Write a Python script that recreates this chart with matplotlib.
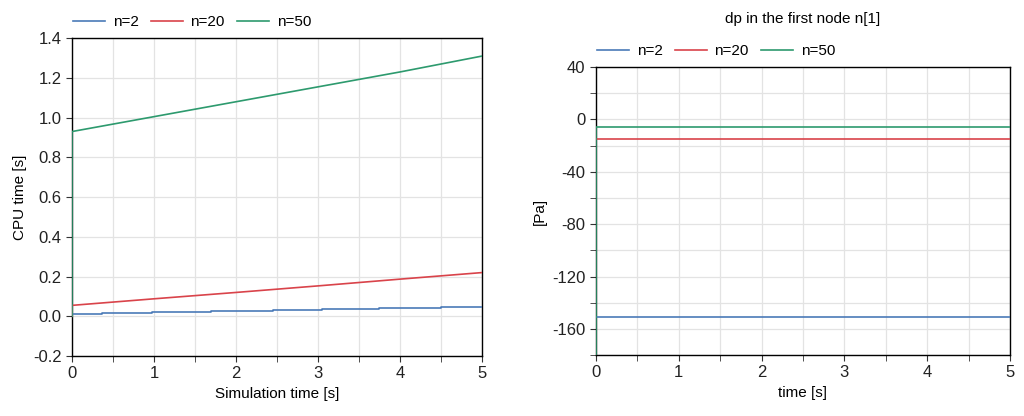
import matplotlib.pyplot as plt
from matplotlib.ticker import MultipleLocator

plt.rcParams['font.family'] = ['Liberation Sans', 'DejaVu Sans']
plt.rcParams['font.size'] = 11
plt.rcParams['axes.unicode_minus'] = False

# left panel: CPU time
labels = ['n=2', 'n=20', 'n=50']
colors = ['#4a7ab8', '#d9434a', '#2d9a6e']

t_n2 = [0, 0.36, 0.97, 1.7, 2.45, 3.05, 3.75, 4.5, 5]
cpu_n2 = [0.01, 0.015, 0.02, 0.025, 0.03, 0.035, 0.04, 0.048, 0.048]
t_lin = [0, 0, 1, 2, 3, 4, 5]
cpu_n20 = [0, 0.055, 0.088, 0.12, 0.153, 0.187, 0.22]
cpu_n50 = [0, 0.93, 1.005, 1.08, 1.155, 1.23, 1.31]

# right panel: dp in first node
t_dp = [0, 0, 5]
dp_n2 = [-151, -151, -151]
dp_n20 = [-15, -15, -15]
dp_n50 = [-400, -6, -6]

fig = plt.figure(figsize=(10.24, 4.16), dpi=100)
ax1 = fig.add_axes([0.0703, 0.1442, 0.4004, 0.764])
ax2 = fig.add_axes([0.582, 0.1466, 0.4043, 0.692])

ax1.plot(t_n2, cpu_n2, color=colors[0], lw=1.2, drawstyle='steps-post', label=labels[0], zorder=3)
ax1.plot(t_lin, cpu_n20, color=colors[1], lw=1.2, label=labels[1], zorder=3)
ax1.plot(t_lin, cpu_n50, color=colors[2], lw=1.2, label=labels[2], zorder=3)
ax1.set_xlim(0, 5)
ax1.set_ylim(-0.2, 1.4)
ax1.yaxis.set_major_locator(MultipleLocator(0.2))
ax1.set_xlabel('Simulation time [s]')
ax1.set_ylabel('CPU time [s]')
ax1.yaxis.set_major_formatter(plt.FuncFormatter(lambda v, p: f'{v:.1f}'))

ax2.plot(t_dp, dp_n2, color=colors[0], lw=1.2, label=labels[0], zorder=3)
ax2.plot(t_dp, dp_n20, color=colors[1], lw=1.2, label=labels[1], zorder=3)
ax2.plot(t_dp, dp_n50, color=colors[2], lw=1.2, label=labels[2], zorder=3)
ax2.set_xlim(0, 5)
ax2.set_ylim(-180, 40)
ax2.yaxis.set_major_locator(MultipleLocator(40))
ax2.yaxis.set_minor_locator(MultipleLocator(20))
ax2.set_xlabel('time [s]')
ax2.set_ylabel('[Pa]')
ax2.set_title('dp in the first node n[1]', pad=32, fontsize=11)

for ax in (ax1, ax2):
    ax.xaxis.set_major_locator(MultipleLocator(1))
    ax.xaxis.set_minor_locator(MultipleLocator(0.5))
    ax.grid(True, which='both', color='#e3e3e3', lw=0.9)
    ax.set_axisbelow(True)
    ax.tick_params(which='both', direction='out', length=4, colors='#333333', labelcolor='#222222')
    ax.tick_params(axis='x', labelsize=12)
    ax.tick_params(axis='y', labelsize=12)
    for s in ax.spines.values():
        s.set_linewidth(1.0)
        s.set_zorder(2)
    ax.legend(loc='lower left', bbox_to_anchor=(-0.02, 1.0), ncol=3, frameon=False,
              handlelength=2.1, columnspacing=0.8, handletextpad=0.5, borderaxespad=0.2,
              fontsize=11)

fig.savefig('out.png', dpi=100)
